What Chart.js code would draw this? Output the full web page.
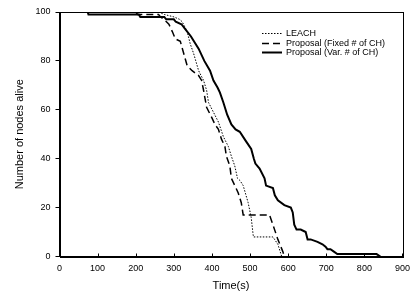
<!DOCTYPE html>
<html>
<head>
<meta charset="utf-8">
<script src="https://cdn.jsdelivr.net/npm/chart.js@4/dist/chart.umd.min.js"></script>
<style>
html,body{margin:0;padding:0;background:#fff;}
#c{display:block;}
</style>
</head>
<body>
<canvas id="c" width="417" height="297"></canvas>
<script>
// Series: [time (s), number of nodes alive]
const seriesNames = ["LEACH", "Proposal (Fixed # of CH)", "Proposal (Var. # of CH)"];

const leachTime  = [0,260,275,300,315,322,335,343,352,365,378,386,391,404,417,430,443,451,460,467,474,482,495,503,508,509,560,573,583];
const leachAlive = [100,100,99,98,97,96,92,87,83,76,72,68,63,59,55,49,45,41,37,32,31,29,22,16,9,8,8,5,0];

const fixedTime  = [0,200,205,260,265,274,287,296,304,317,326,335,348,365,373,378,386,399,408,417,425,434,438,447,451,460,469,477,482,551,560,573,586,590];
const fixedAlive = [100,100,99,99,98,97,95,92,89,88,83,78,76,74,72,68,61,57,54,52,48,45,41,37,32,29,26,22,17,17,13,7,2,0];

const varTime  = [0,74,76,208,212,275,280,300,305,320,330,345,365,380,395,404,415,421,430,440,451,462,473,490,503,510,514,525,538,542,560,565,573,590,607,612,616,622,633,646,651,659,677,690,698,703,711,720,729,832,842];
const varAlive = [100,100,99,99,98,98,97,97,96,95,93,90,85,80,76,72,69,67,63,58,54,52,51,47,44,40,38,36,32,29,28,25,23,21,20,18,13,11,11,10,7,7,6,5,4,3,3,2,1,1,0];

const xTicks = [0,100,200,300,400,500,600,700,800,900];
const yTicks = [0,20,40,60,80,100];

function pts(t, v){ return t.map((x,i)=>({x:x, y:v[i]})); }

const FONT = "'Liberation Sans', Arial, sans-serif";

const frame = {
  id:'frame',
  afterDraw(chart){
    const {ctx, chartArea:a, scales} = chart;
    ctx.save();
    ctx.strokeStyle='#000'; ctx.lineWidth=1;
    ctx.strokeRect(Math.round(a.left)+0.5, Math.round(a.top)+0.5, Math.round(a.right-a.left), Math.round(a.bottom-a.top));
    // inward x ticks
    ctx.beginPath();
    xTicks.forEach(v=>{
      const px = Math.round(scales.x.getPixelForValue(v))+0.5;
      ctx.moveTo(px, a.bottom); ctx.lineTo(px, a.bottom-3);
    });
    ctx.stroke();
    // legend
    const lx0 = 262, lx1 = 282, tx = 286;
    const rows = [33, 43, 52];
    chart.data.datasets.forEach((ds,i)=>{
      ctx.beginPath();
      ctx.strokeStyle = ds.borderColor;
      ctx.lineWidth = ds.borderWidth;
      ctx.setLineDash(ds.borderDash || []);
      ctx.moveTo(lx0, rows[i]+0.5); ctx.lineTo(lx1, rows[i]+0.5);
      ctx.stroke();
      ctx.setLineDash([]);
      ctx.fillStyle='#000';
      ctx.font = "9px " + FONT;
      ctx.textBaseline='middle';
      ctx.textAlign='left';
      ctx.fillText(ds.label, tx, rows[i]+0.5);
    });
    ctx.restore();
  }
};

new Chart(document.getElementById('c'), {
  type:'line',
  data:{
    datasets:[
      {label:seriesNames[0], data:pts(leachTime, leachAlive), borderColor:'#000', borderWidth:1, borderDash:[1.5,1.5], pointRadius:0, fill:false, tension:0},
      {label:seriesNames[1], data:pts(fixedTime, fixedAlive), borderColor:'#000', borderWidth:1.5, borderDash:[7,4], pointRadius:0, fill:false, tension:0},
      {label:seriesNames[2], data:pts(varTime, varAlive), borderColor:'#000', borderWidth:2, pointRadius:0, fill:false, tension:0}
    ]
  },
  options:{
    responsive:false,
    devicePixelRatio:1,
    animation:false,
    layout:{padding:{top:12, right:11, left:0, bottom:0}},
    plugins:{legend:{display:false}, tooltip:{enabled:false}},
    scales:{
      x:{
        type:'linear', min:0, max:900,
        afterBuildTicks(s){ s.ticks = xTicks.map(v=>({value:v})); },
        afterFit(s){ s.height = 40.5; },
        grid:{drawOnChartArea:false, drawTicks:false, color:'#000'},
        border:{color:'#000', width:1},
        ticks:{color:'#000', font:{family:FONT, size:9}, padding:7, maxRotation:0},
        title:{display:true, text:'Time(s)', color:'#000', font:{family:FONT, size:11}, padding:{top:0,bottom:4}}
      },
      y:{
        type:'linear', min:0, max:100,
        afterBuildTicks(s){ s.ticks = yTicks.map(v=>({value:v})); },
        afterFit(s){ s.width = 59.5; },
        grid:{drawOnChartArea:false, drawTicks:true, tickLength:4, color:'#000'},
        border:{color:'#000', width:1},
        ticks:{color:'#000', font:{family:FONT, size:9}, padding:5},
        title:{display:true, text:'Number of nodes alive', color:'#000', font:{family:FONT, size:11}, padding:{top:13,bottom:0}}
      }
    }
  },
  plugins:[frame]
});
</script>
</body>
</html>
